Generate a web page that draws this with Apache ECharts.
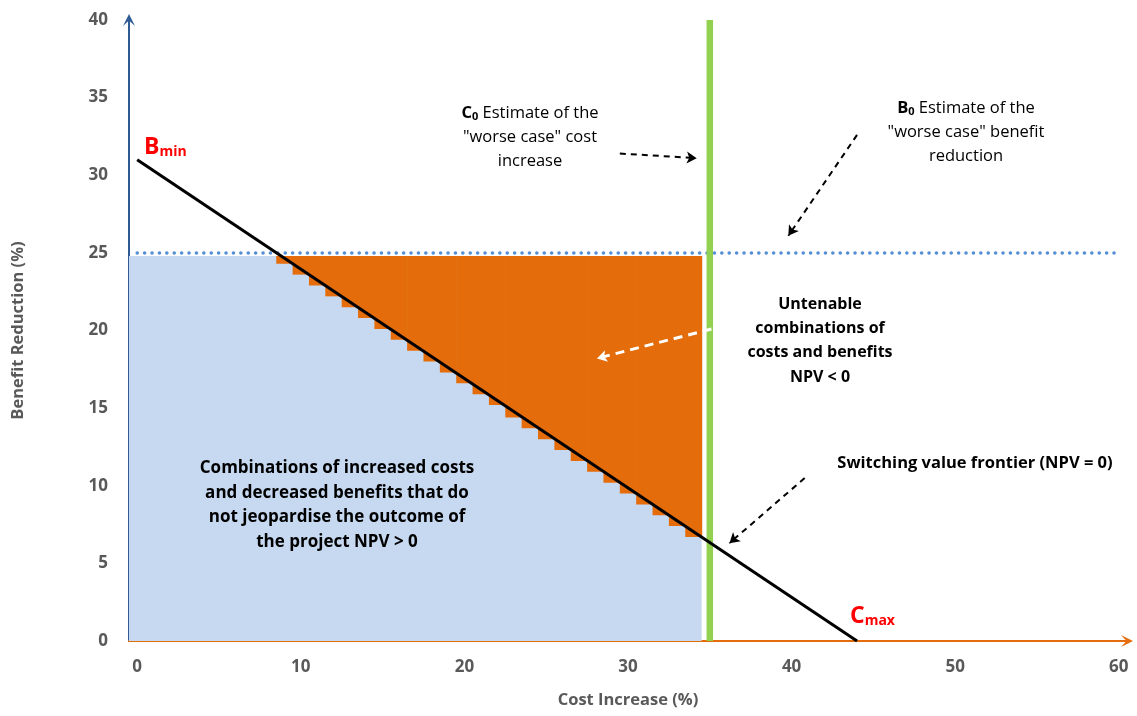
<!DOCTYPE html>
<html>
<head>
<meta charset="utf-8">
<script src="https://cdn.jsdelivr.net/npm/echarts@6/dist/echarts.min.js"></script>
<style>
  html, body { margin: 0; padding: 0; background: #fff; }
  #main { width: 1137px; height: 716px; }
</style>
</head>
<body>
<div id="main"></div>
<script>
// frontier NPV = 0 : B_min on y axis, C_max on x axis
var frontier = [[0, 31], [44, 0]];
// worst case estimates
var c0 = 35;
var b0 = 25;
// acceptable zone (blue) : x range and top
var okZone = [[-0.5, 24.8], [34.5, 24.8]];
// untenable zone (orange) drawn as 1-unit steps, [x, bottom, top]
var stepX = [9, 10, 11, 12, 13, 14, 15, 16, 17, 18, 19, 20, 21, 22, 23, 24, 25, 26, 27, 28, 29, 30, 31, 32, 33, 34];
var stepBottom = [24.3, 23.6, 22.9, 22.2, 21.5, 20.8, 20.1, 19.4, 18.7, 18.0, 17.3, 16.6, 15.9, 15.2, 14.4, 13.7, 13.0, 12.3, 11.6, 10.9, 10.2, 9.5, 8.8, 8.1, 7.4, 6.7];
var stepTop = 24.8;
var xTicks = [0, 10, 20, 30, 40, 50, 60];

// arrows (from -> to) in data units
var arrowC0 = [[29.5, 31.4], [34.2, 31.1]];
var arrowB0 = [[44.0, 32.6], [39.8, 26.1]];
var arrowFrontier = [[40.8, 10.5], [36.2, 6.3]];
var arrowUntenable = [[35.1, 20.1], [28.1, 18.2]];

var FONT = "'Open Sans', Lato, sans-serif";
var myChart = echarts.init(document.getElementById("main"));

var steps = stepX.map(function (x, i) { return [x, stepBottom[i], stepTop]; });

function arrowLine(a) {
  return [{ coord: a[0] }, { coord: a[1] }];
}

var subRich = function (size, color) {
  return {
    b: { fontSize: size, fontWeight: "bold", fill: color, fontFamily: FONT, lineHeight: 26 },
    s: { fontSize: 14, fontWeight: "bold", fill: color, fontFamily: FONT, lineHeight: 26, padding: [10, 0, 0, 0] },
  };
};

// open arrow head for the axes
var axisArrow = "path://M0,12 L6,0 L12,12 L6,6.5 Z";

var option = {
  animation: false,
  grid: { left: 129, top: 20, width: 998, height: 621, outerBoundsMode: "none", containLabel: false },
  xAxis: {
    type: "value",
    min: -0.5,
    max: 60.5,
    name: "Cost Increase (%)",
    nameLocation: "middle",
    nameGap: 51,
    nameTextStyle: { color: "#595959", fontSize: 16.5, fontWeight: "bold", fontFamily: FONT },
    axisLine: { show: true, onZero: false, symbol: ["none", axisArrow], symbolSize: [12, 13],
      lineStyle: { color: "#e46c0a", width: 2 } },
    axisTick: { show: false },
    splitLine: { show: false },
    axisLabel: { customValues: xTicks, color: "#595959", fontSize: 17, fontWeight: "bold",
      fontFamily: FONT, margin: 18 },
  },
  yAxis: {
    type: "value",
    min: 0,
    max: 40,
    interval: 5,
    name: "Benefit Reduction (%)",
    nameLocation: "middle",
    nameGap: 102,
    nameTextStyle: { color: "#595959", fontSize: 16.5, fontWeight: "bold", fontFamily: FONT },
    axisLine: { show: true, onZero: false, symbol: ["none", axisArrow], symbolSize: [12, 13],
      lineStyle: { color: "#2f5b95", width: 2 } },
    axisTick: { show: false },
    splitLine: { show: false },
    axisLabel: { color: "#595959", fontSize: 17, fontWeight: "bold", fontFamily: FONT, margin: 21 },
  },
  series: [
    {
      // blue area
      type: "line",
      data: okZone,
      symbol: "none",
      lineStyle: { width: 0 },
      areaStyle: { color: "#c6d9f1", opacity: 1 },
      z: 1,
    },
    {
      // orange steps
      type: "custom",
      data: steps,
      z: 2,
      renderItem: function (params, api) {
        var p1 = api.coord([api.value(0) - 0.5, api.value(2)]);
        var p2 = api.coord([api.value(0) + 0.5, api.value(1)]);
        return {
          type: "rect",
          shape: { x: p1[0], y: p1[1], width: p2[0] - p1[0] + 0.6, height: p2[1] - p1[1] },
          style: { fill: "#e46c0a" },
        };
      },
    },
    {
      // worst case benefit line
      type: "line",
      data: [[0, b0], [60, b0]],
      symbol: "none",
      lineStyle: { color: "#558ed5", width: 3.5, type: [0.1, 7.3], cap: "round" },
      z: 3,
    },
    {
      // worst case cost line
      type: "line",
      data: [[c0, 0], [c0, 40]],
      symbol: "none",
      lineStyle: { color: "#92d050", width: 6.5 },
      z: 4,
    },
    {
      // switching value frontier
      type: "line",
      data: frontier,
      symbol: "none",
      lineStyle: { color: "#000", width: 3 },
      z: 5,
      markLine: {
        silent: true,
        symbol: ["none", "arrow"],
        symbolSize: [9, 10],
        label: { show: false },
        lineStyle: { color: "#000", width: 2, type: [6, 5] },
        data: [
          arrowLine(arrowC0),
          arrowLine(arrowB0),
          arrowLine(arrowFrontier),
          [
            { coord: arrowUntenable[0], lineStyle: { color: "#fff", width: 3, type: [9, 6] } },
            { coord: arrowUntenable[1] },
          ],
        ],
      },
    },
  ],
  graphic: [
    {
      type: "text", x: 144, y: 134, z: 10,
      style: { text: "{b|B}{s|min}", rich: subRich(23, "#ff0000") },
    },
    {
      type: "text", x: 850, y: 603, z: 10,
      style: { text: "{b|C}{s|max}", rich: subRich(23, "#ff0000") },
    },
    {
      type: "text", x: 530, y: 101, z: 10,
      style: {
        text: "{b|C}{s|0}{n| Estimate of the}\n{n|\"worse case\" cost}\n{n|increase}",
        align: "center",
        verticalAlign: "top",
        rich: {
          b: { fontSize: 16.5, fontWeight: "bold", fill: "#000", fontFamily: FONT, lineHeight: 24 },
          s: { fontSize: 11, fontWeight: "bold", fill: "#000", fontFamily: FONT, lineHeight: 24, padding: [7, 0, 0, 0] },
          n: { fontSize: 16.5, fill: "#000", fontFamily: FONT, lineHeight: 24 },
        },
      },
    },
    {
      type: "text", x: 966, y: 96, z: 10,
      style: {
        text: "{b|B}{s|0}{n| Estimate of the}\n{n|\"worse case\" benefit}\n{n|reduction}",
        align: "center",
        verticalAlign: "top",
        rich: {
          b: { fontSize: 16.5, fontWeight: "bold", fill: "#000", fontFamily: FONT, lineHeight: 24 },
          s: { fontSize: 11, fontWeight: "bold", fill: "#000", fontFamily: FONT, lineHeight: 24, padding: [7, 0, 0, 0] },
          n: { fontSize: 16.5, fill: "#000", fontFamily: FONT, lineHeight: 24 },
        },
      },
    },
    {
      type: "text", x: 820, y: 292, z: 10,
      style: {
        text: "Untenable\ncombinations of\ncosts and benefits\nNPV < 0",
        align: "center", verticalAlign: "top",
        font: "bold 16px " + FONT, lineHeight: 24.3, fill: "#000",
      },
    },
    {
      type: "text", x: 337, y: 456, z: 10,
      style: {
        text: "Combinations of increased costs\nand decreased benefits that do\nnot jeopardise the outcome of\nthe project NPV > 0",
        align: "center", verticalAlign: "top",
        font: "bold 17px " + FONT, lineHeight: 24.6, fill: "#000",
      },
    },
    {
      type: "text", x: 975, y: 451, z: 10,
      style: {
        text: "Switching value frontier (NPV = 0)",
        align: "center", verticalAlign: "top",
        font: "bold 16.5px " + FONT, lineHeight: 24, fill: "#000",
      },
    },
  ],
};

myChart.setOption(option);
</script>
</body>
</html>
